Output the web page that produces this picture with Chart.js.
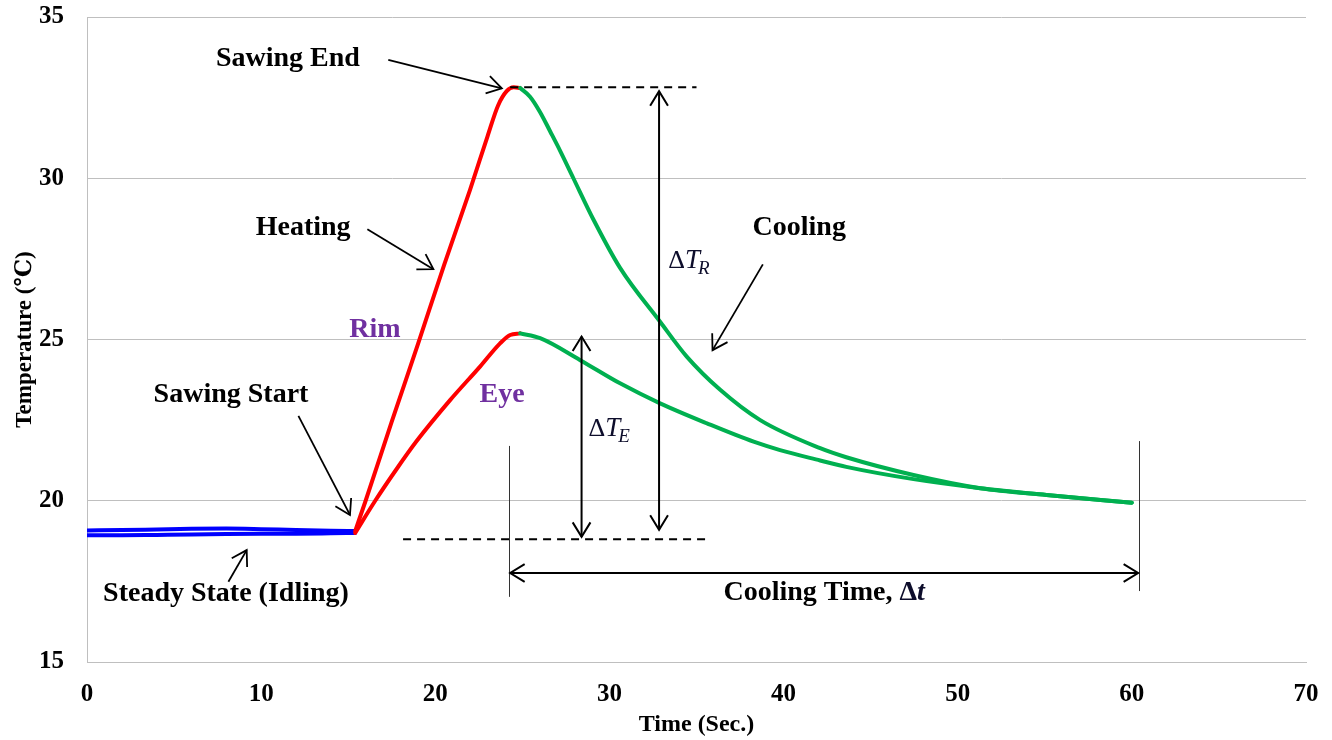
<!DOCTYPE html>
<html><head><meta charset="utf-8">
<script src="https://cdn.jsdelivr.net/npm/chart.js@4/dist/chart.umd.min.js"></script>
<style>html,body{margin:0;padding:0;background:#fff;}</style>
</head><body>
<canvas id="c" width="1332" height="740"></canvas>
<script>
// ---- data (time in seconds, temperature in °C) ----
const xTicks = [0, 10, 20, 30, 40, 50, 60, 70];
const yTicks = [15, 20, 25, 30, 35];

const steadyTime = [0, 2, 4, 6, 8, 10, 12, 14, 15.4];
const rimSteady  = [19.08, 19.09, 19.11, 19.13, 19.14, 19.12, 19.09, 19.07, 19.06];
const eyeSteady  = [18.93, 18.93, 18.94, 18.95, 18.97, 18.98, 18.98, 18.99, 19.0];

const rimHeatTime = [15.4, 16.0, 17.5, 19.0, 20.5, 22.0, 23.0, 23.6, 24.1, 24.5, 24.87];
const rimHeat     = [19.06, 20.0, 22.45, 24.85, 27.3, 29.65, 31.3, 32.25, 32.7, 32.82, 32.8];

const eyeHeatTime = [15.4, 16.55, 17.8, 18.93, 20.85, 22.57, 23.72, 24.3, 24.87];
const eyeHeat     = [19.0, 20.0, 21.0, 21.85, 23.12, 24.16, 24.88, 25.14, 25.19];

const rimCoolTime = [24.87, 25.44, 26.02, 26.6, 27.17, 27.93, 29.08, 30.61, 32.91, 34.44, 36.36, 38.66, 42.1, 43.6, 47.46, 51.3, 55.1, 60.0];
const rimCool     = [32.8, 32.53, 32.05, 31.45, 30.85, 30.0, 28.72, 27.22, 25.55, 24.47, 23.44, 22.5, 21.63, 21.35, 20.8, 20.39, 20.18, 19.94];

const eyeCoolTime = [24.87, 26.02, 28.32, 30.61, 32.91, 35.6, 38.28, 39.8, 42.1, 43.6, 47.46, 51.3, 55.1, 60.0];
const eyeCool     = [25.19, 25.04, 24.36, 23.64, 23.02, 22.4, 21.83, 21.57, 21.25, 21.05, 20.67, 20.39, 20.18, 19.94];

// ---- annotation anchors (data coordinates) ----
const labels = [
  {t: 'Sawing End', x: 11.54, y: 33.49, c: '#000'},
  {t: 'Heating', x: 12.41, y: 28.24, c: '#000'},
  {t: 'Cooling', x: 40.9, y: 28.24, c: '#000'},
  {t: 'Rim', x: 16.54, y: 25.09, c: '#7030A0'},
  {t: 'Eye', x: 23.84, y: 23.07, c: '#7030A0'},
  {t: 'Sawing Start', x: 8.27, y: 23.06, c: '#000'},
  {t: 'Steady State (Idling)', x: 7.98, y: 16.89, c: '#000'}
];
const pointerArrows = [
  [17.3, 33.67, 23.82, 32.79],
  [16.1, 28.42, 19.89, 27.18],
  [38.81, 27.33, 35.92, 24.67],
  [12.14, 22.63, 15.1, 19.56],
  [8.12, 17.49, 9.17, 18.47]
];

const zip = (xs, ys) => xs.map((v, i) => ({x: v, y: ys[i]}));
const SERIF = "'Liberation Serif', 'Times New Roman', 'DejaVu Serif', serif";

function ds(data, color) {
  return {data, borderColor: color, borderWidth: 4, pointRadius: 0, fill: false,
          cubicInterpolationMode: 'monotone', borderCapStyle: 'round', borderJoinStyle: 'round'};
}

function head(ctx, x1, y1, x2, y2, L, ang) {
  const a = Math.atan2(y2 - y1, x2 - x1);
  ctx.beginPath();
  ctx.moveTo(x2 - L * Math.cos(a - ang), y2 - L * Math.sin(a - ang));
  ctx.lineTo(x2, y2);
  ctx.lineTo(x2 - L * Math.cos(a + ang), y2 - L * Math.sin(a + ang));
  ctx.stroke();
}
function arrow(ctx, x1, y1, x2, y2, both) {
  ctx.beginPath(); ctx.moveTo(x1, y1); ctx.lineTo(x2, y2); ctx.stroke();
  head(ctx, x1, y1, x2, y2, 17, 0.55);
  if (both) head(ctx, x2, y2, x1, y1, 17, 0.55);
}

const annot = {
  id: 'annot',
  afterDatasetsDraw(chart) {
    const {ctx} = chart;
    const X = v => chart.scales.x.getPixelForValue(v);
    const Y = v => chart.scales.y.getPixelForValue(v);
    ctx.save();
    ctx.strokeStyle = '#000'; ctx.lineCap = 'butt';
    ctx.lineWidth = 2; ctx.setLineDash([8, 6]);
    const peak = Math.max(...rimHeat);
    ctx.beginPath(); ctx.moveTo(X(24.3), Y(peak)); ctx.lineTo(X(35.0), Y(peak)); ctx.stroke();
    ctx.beginPath(); ctx.moveTo(X(18.15), Y(18.81)); ctx.lineTo(X(35.7), Y(18.81)); ctx.stroke();
    ctx.setLineDash([]);
    ctx.lineWidth = 2;
    arrow(ctx, X(32.85), Y(19.1), X(32.85), Y(32.7), true);
    arrow(ctx, X(28.4), Y(18.88), X(28.4), Y(25.09), true);
    ctx.lineWidth = 1; ctx.strokeStyle = '#333';
    ctx.beginPath(); ctx.moveTo(Math.round(X(24.24)) + 0.5, Y(21.7)); ctx.lineTo(Math.round(X(24.24)) + 0.5, Y(17.02)); ctx.stroke();
    ctx.beginPath(); ctx.moveTo(Math.round(X(60.42)) + 0.5, Y(21.85)); ctx.lineTo(Math.round(X(60.42)) + 0.5, Y(17.2)); ctx.stroke();
    ctx.strokeStyle = '#000'; ctx.lineWidth = 2;
    arrow(ctx, X(24.3), Y(17.76), X(60.36), Y(17.76), true);
    ctx.lineWidth = 1.8;
    pointerArrows.forEach(a => arrow(ctx, X(a[0]), Y(a[1]), X(a[2]), Y(a[3]), false));
    ctx.textAlign = 'center'; ctx.textBaseline = 'alphabetic';
    ctx.font = 'bold 28px ' + SERIF;
    labels.forEach(l => { ctx.fillStyle = l.c; ctx.fillText(l.t, X(l.x), Y(l.y)); });
    const s1 = 'Cooling Time, ';
    ctx.font = 'bold 28px ' + SERIF;
    const w1 = ctx.measureText(s1).width;
    ctx.font = 'bold italic 28px ' + SERIF;
    const w2 = ctx.measureText('Δt').width;
    let sx = X(42.33) - (w1 + w2) / 2;
    ctx.textAlign = 'left';
    ctx.font = 'bold 28px ' + SERIF; ctx.fillStyle = '#000';
    ctx.fillText(s1, sx, Y(16.92));
    ctx.font = 'bold 28px ' + SERIF; ctx.fillStyle = '#0d0d2b';
    ctx.fillText('Δ', sx + w1, Y(16.92));
    const wd = ctx.measureText('Δ').width;
    ctx.font = 'bold italic 28px ' + SERIF;
    ctx.fillText('t', sx + w1 + wd, Y(16.92));
    function dT(xv, yv, sub) {
      const px = X(xv), py = Y(yv);
      ctx.fillStyle = '#0d0d2b'; ctx.textAlign = 'left';
      ctx.font = '26px ' + SERIF;
      ctx.fillText('Δ', px, py);
      const w = ctx.measureText('Δ').width;
      ctx.font = 'italic 27px ' + SERIF;
      ctx.fillText('T', px + w, py);
      const w3 = ctx.measureText('T').width;
      ctx.font = 'italic 19px ' + SERIF;
      ctx.fillText(sub, px + w + w3 - 2, py + 6);
    }
    dT(33.38, 27.21, 'R');
    dT(28.8, 22.0, 'E');
    ctx.restore();
  }
};

new Chart(document.getElementById('c'), {
  type: 'line',
  data: {
    datasets: [
      ds(zip(rimCoolTime, rimCool), '#00B050'),
      ds(zip(eyeCoolTime, eyeCool), '#00B050'),
      ds(zip(rimHeatTime, rimHeat), '#FF0000'),
      ds(zip(eyeHeatTime, eyeHeat), '#FF0000'),
      ds(zip(steadyTime, rimSteady), '#0000FF'),
      ds(zip(steadyTime, eyeSteady), '#0000FF')
    ]
  },
  options: {
    responsive: false, animation: false, devicePixelRatio: 1,
    layout: {padding: {top: 17, right: 26, left: 0, bottom: 0}},
    plugins: {legend: {display: false}, tooltip: {enabled: false}},
    scales: {
      x: {
        type: 'linear', min: 0, max: 70,
        afterBuildTicks: s => { s.ticks = xTicks.map(v => ({value: v})); },
        afterFit: s => { s.height = 78; s.paddingLeft = 0; s.paddingRight = 0; },
        grid: {drawOnChartArea: false, drawTicks: false},
        border: {display: true, color: '#bfbfbf', width: 1},
        ticks: {padding: 18, color: '#000', font: {family: SERIF, size: 25, weight: 'bold'}},
        title: {display: true, text: 'Time (Sec.)', color: '#000', padding: {top: 0, bottom: 1},
                font: {family: SERIF, size: 24, weight: 'bold', lineHeight: 1.2}}
      },
      y: {
        type: 'linear', min: 15, max: 35,
        afterBuildTicks: s => { s.ticks = yTicks.map(v => ({value: v})); },
        afterFit: s => { s.width = 87; s.paddingTop = 0; s.paddingBottom = 0; },
        grid: {color: '#bfbfbf', lineWidth: 1, drawTicks: false},
        border: {display: true, color: '#bfbfbf', width: 1},
        ticks: {padding: 23, color: '#000', font: {family: SERIF, size: 25, weight: 'bold'}},
        title: {display: true, text: 'Temperature (℃)', color: '#000', padding: {top: 11, bottom: 0},
                font: {family: SERIF, size: 23, weight: 'bold', lineHeight: 1.2}}
      }
    }
  },
  plugins: [annot]
});
</script>
</body></html>
